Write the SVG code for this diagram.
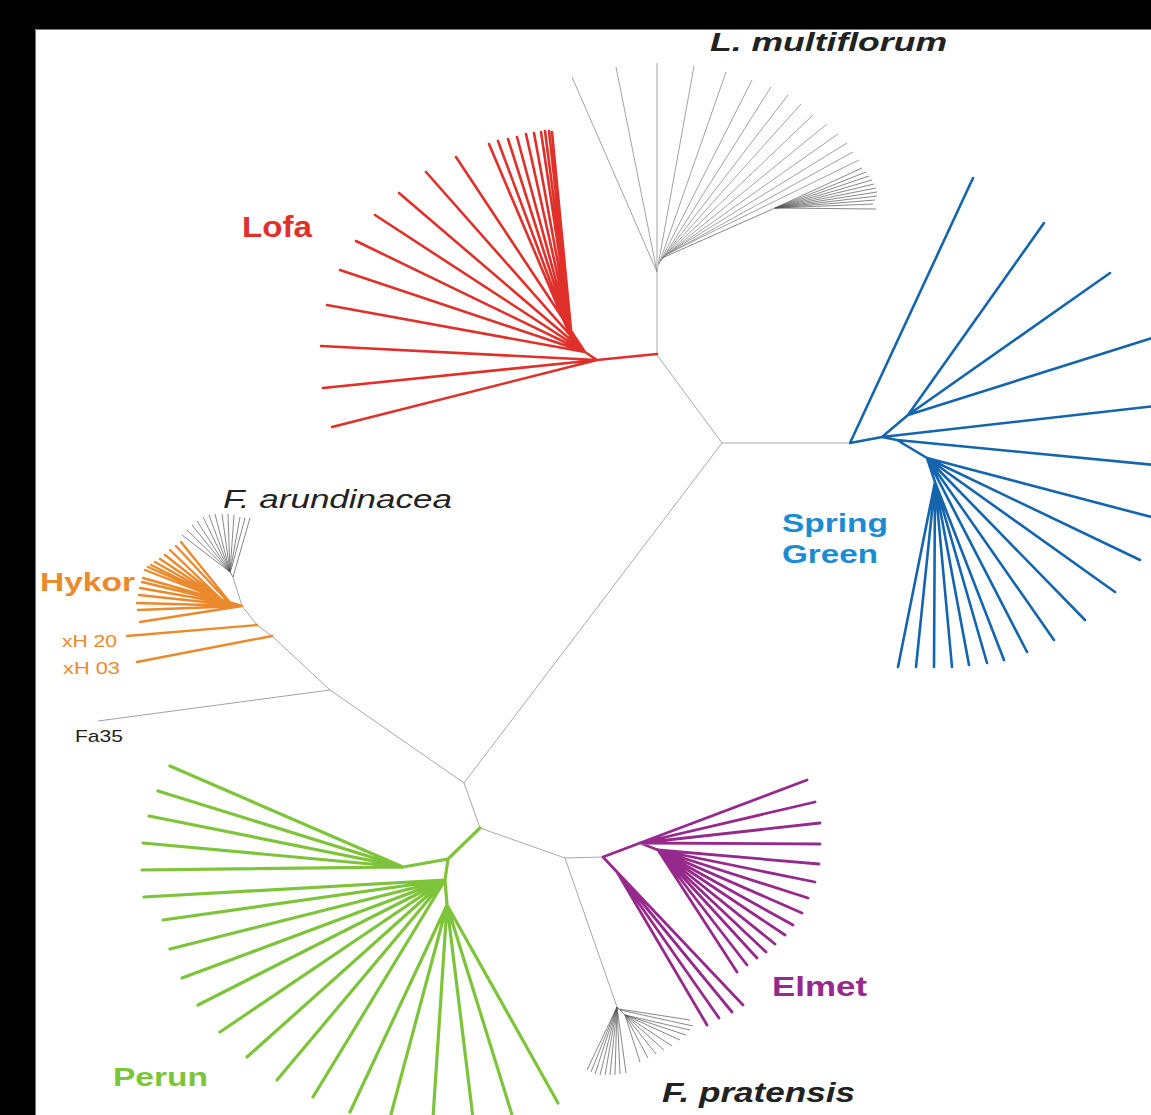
<svg xmlns="http://www.w3.org/2000/svg" width="1151" height="1115" viewBox="0 0 1151 1115">
<style>
.bb{stroke:#a8a8a8;stroke-width:1;fill:none}
.gy{stroke:#8a8a8a;stroke-width:0.8;fill:none}
.gd{stroke:#555;stroke-width:0.7;fill:none}
.red{stroke:#e0302a;stroke-width:2.6;fill:none;stroke-linecap:round}
.blu{stroke:#1465ae;stroke-width:2.6;fill:none;stroke-linecap:round}
.org{stroke:#eb8a2c;stroke-width:2.4;fill:none;stroke-linecap:round}
.grn{stroke:#7dc43a;stroke-width:3.2;fill:none;stroke-linecap:round}
.pur{stroke:#962a8c;stroke-width:2.8;fill:none;stroke-linecap:round}
text{font-family:"Liberation Sans",Arial,sans-serif}
.lb{font-weight:bold}
.sp{font-style:italic;fill:#222}
</style>
<rect x="0" y="0" width="1151" height="1115" fill="#fff"/>
<g id="connectors">
<path class="bb" d="M722,443 L848,443 M722,443 L657,355 L657,268 M722,443 L464,783 L330,690 L272,636 L257,625 L242,606 L233,577 M464,783 L480,828 L565,858 L603,857 M565,858 L617,1007"/>
</g>
<g id="l-multiflorum">
<path class="gy" d="M657,272 L572,77 M657,272 L616,67 M657,270 L657,63 M658,266 L694,66 M659,264 L726,72 M660,262 L752,80 M661,261 L771,87 M662,259 L788,95 M663,258 L801,104 M664,257 L813,115 M665,256 L827,124 M666,255 L838,134 M667,254 L847,143 M668,254 L853,152 M669,253 L859,160"/>
<path class="gd" d="M662,258 L775,208 M775,208 L862,168 M775,208 L866,172 M775,208 L869,176 M775,208 L872,180 M775,208 L874,184 M775,208 L876,188 M775,208 L877,192 M775,208 L877,196 M775,208 L875,200 M775,208 L873,204 M775,208 L876,209"/>
<text class="lb sp" x="710" y="51" font-size="25" textLength="237" lengthAdjust="spacingAndGlyphs">L. multiflorum</text>
</g>
<g id="lofa">
<path class="red" d="M657,354 L597,360 M597,360 L332,427 M597,360 L323,388 M597,360 L321,346 M597,360 L585,352 M585,352 L327,305 M585,352 L340,270 M585,352 L356,241 M585,352 L375,215 M585,352 L399,193 M585,352 L426,172 M585,352 L456,157 M585,352 L572,340 M572,340 L489,144 M572,340 L498,141 M572,340 L508,139 M572,340 L517,137 M572,340 L526,134 M572,340 L534,133 M572,340 L541,132 M572,340 L545,131 M572,340 L549,131 M572,340 L552,132"/>
<text class="lb" x="242" y="237" font-size="29" fill="#e0302a" textLength="70" lengthAdjust="spacingAndGlyphs">Lofa</text>
</g>
<g id="spring-green">
<path class="blu" d="M850,443 L973,178 M850,443 L882,437 L908,415 M908,415 L1044,223 M908,415 L1110,273 M908,415 L1155,337 M882,437 L1155,406 M882,437 L897,440 L1155,465 M897,440 L927,458 M927,458 L1155,518 M927,458 L1140,560 M927,458 L1115,592 M927,458 L1085,620 M927,458 L1054,640 M927,458 L1027,652 M927,458 L935,482 M935,482 L898,667 M935,482 L916,667 M935,482 L934,667 M935,482 L952,667 M935,482 L969,665 M935,482 L987,663 M935,482 L1004,660"/>
<text class="lb" font-size="25" fill="#1b8cd2"><tspan x="782" y="532" textLength="106" lengthAdjust="spacingAndGlyphs">Spring</tspan><tspan x="782" y="563" textLength="96" lengthAdjust="spacingAndGlyphs">Green</tspan></text>
</g>
<g id="f-arundinacea">
<path class="gd" d="M233,577 L230,572 M230,572 L182,535 M230,572 L187,530 M230,572 L192,525 M230,572 L197,521 M230,572 L203,517 M230,572 L209,515 M230,572 L215,514 M230,572 L222,514 M230,572 L228,514 M230,572 L234,515 M230,572 L240,517 M231,570 L245,518 M233,577 L250,518"/>
<text class="sp" x="223" y="508" font-size="25" textLength="229" lengthAdjust="spacingAndGlyphs">F. arundinacea</text>
</g>
<g id="hykor">
<path class="org" d="M242,606 L140,622 M242,606 L138,610 M242,606 L137,603 M242,606 L139,595 M242,606 L140,588 M242,606 L142,582 M242,606 L143,578 M242,606 L222,600 M222,600 L145,570 M222,600 L148,567 M222,600 L151,565 M222,600 L155,562 M222,600 L160,559 M222,600 L165,555 M222,600 L170,550 M230,604 L176,546 M232,605 L181,542"/>
<text class="lb" x="40" y="591" font-size="25" fill="#eb8a2c" textLength="95" lengthAdjust="spacingAndGlyphs">Hykor</text>
</g>
<g id="xh20">
<path class="org" d="M257,625 L127,636"/>
<text x="62" y="647" font-size="17" fill="#eb8a2c" textLength="55" lengthAdjust="spacingAndGlyphs">xH 20</text>
</g>
<g id="xh03">
<path class="org" d="M272,636 L137,662"/>
<text x="63" y="674" font-size="17" fill="#eb8a2c" textLength="57" lengthAdjust="spacingAndGlyphs">xH 03</text>
</g>
<g id="fa35">
<path class="gy" d="M330,690 L98,721"/>
<text x="75" y="742" font-size="17" fill="#222" textLength="48" lengthAdjust="spacingAndGlyphs">Fa35</text>
</g>
<g id="perun">
<path class="grn" d="M480,828 L448,859 L403,867 M403,867 L170,766 M403,867 L158,791 M403,867 L149,816 M403,867 L143,843 M403,867 L142,870 M448,859 L445,880 M445,880 L144,897 M445,880 L163,920 M445,880 L170,949 M445,880 L182,978 M445,880 L198,1005 M445,880 L220,1032 M445,880 L247,1057 M445,880 L277,1080 M445,880 L313,1097 M445,880 L447,905 M447,905 L350,1112 M447,905 L390,1118 M447,905 L433,1118 M447,905 L473,1118 M447,905 L513,1118 M447,905 L558,1103"/>
<text class="lb" x="113" y="1086" font-size="26" fill="#7dc43a" textLength="95" lengthAdjust="spacingAndGlyphs">Perun</text>
</g>
<g id="elmet">
<path class="pur" d="M603,857 L640,843 M640,843 L807,780 M640,843 L815,802 M640,843 L820,823 M640,843 L820,844 M640,843 L658,850 M658,850 L819,864 M658,850 L815,882 M658,850 L808,898 M658,850 L802,913 M658,850 L793,925 M658,850 L785,935 M658,850 L775,944 M658,850 L766,952 M658,850 L757,958 M658,850 L747,965 M658,850 L737,972 M603,857 L617,872 M617,872 L743,1005 M617,872 L732,1012 M617,872 L719,1018 M617,872 L707,1025"/>
<text class="lb" x="772" y="996" font-size="28" fill="#962a8c" textLength="95" lengthAdjust="spacingAndGlyphs">Elmet</text>
</g>
<g id="f-pratensis">
<path class="gd" d="M617,1007 L587,1070 M617,1007 L591,1072 M617,1007 L595,1074 M617,1007 L600,1075 M617,1007 L605,1075 M617,1007 L610,1075 M617,1007 L615,1075 M617,1007 L620,1074 M617,1007 L626,1073 M617,1007 L625,1015 M625,1015 L640,1062 M625,1015 L648,1058 M625,1015 L656,1054 M625,1015 L664,1050 M625,1015 L672,1046 M625,1015 L680,1040 M625,1015 L686,1035 M625,1015 L690,1030 M620,1010 L693,1026 M619,1009 L690,1020"/>
<text class="lb sp" x="662" y="1102" font-size="27" textLength="193" lengthAdjust="spacingAndGlyphs">F. pratensis</text>
</g>
<g id="frame">
<rect x="0" y="0" width="1151" height="29" fill="#000"/>
<rect x="0" y="0" width="35" height="1115" fill="#000"/>
<path d="M35.5,1115 L35.5,29.5 L1151,29.5" stroke="#777" stroke-width="1" fill="none"/>
</g>
</svg>
